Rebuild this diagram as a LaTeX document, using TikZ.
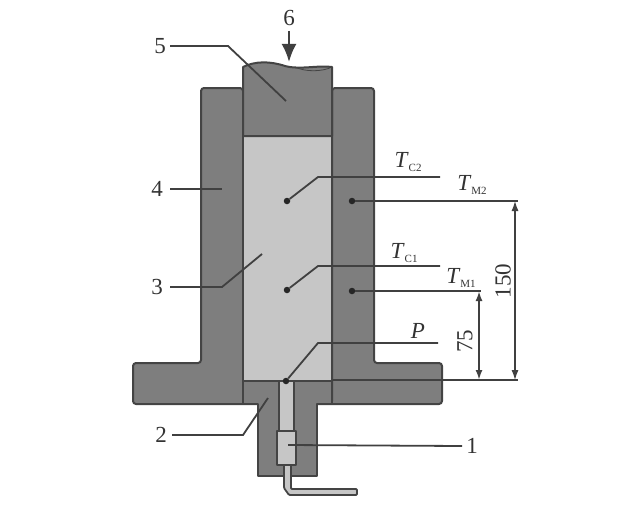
\documentclass[tikz,border=0pt]{standalone}
\usepackage{fontspec}
\setmainfont{Liberation Serif}
\usetikzlibrary{arrows.meta}
\definecolor{dark}{HTML}{7E7E7E}
\definecolor{light}{HTML}{C6C6C6}
\definecolor{edge}{HTML}{444444}
\definecolor{lead}{HTML}{404040}
\tikzset{
  part/.style={draw=edge,line width=2pt,fill=dark,line join=round},
  lightpart/.style={draw=edge,line width=1.8pt,fill=light,line join=round},
  leader/.style={draw=lead,line width=1.8pt},
  dimline/.style={draw=lead,line width=1.2pt,{Latex[length=10pt,width=7pt]}-{Latex[length=10pt,width=7pt]}},
  pointdot/.style={circle,fill=black!85,inner sep=0pt,minimum size=6.5pt},
  num/.style={font=\fontsize{23}{23}\selectfont,inner sep=0pt,text=black!80},
  sym/.style={font=\fontsize{23}{23}\selectfont,inner sep=0pt,text=black!80},
}
\newcommand{\Tsub}[2]{\textit{#1}\raisebox{-4pt}{\fontsize{11}{11}\selectfont #2}}
\begin{document}
\begin{tikzpicture}[x=1pt,y=-1pt]
\useasboundingbox (0,0) rectangle (617,527);
% die body
\draw[part,rounded corners=3pt] (243,88) -- (201,88) -- (201,363) -- (133,363) -- (133,404) -- (442,404) -- (442,363) -- (374,363) -- (374,88) -- (332,88) -- (332,404) -- (243,404) -- cycle;
% lower insert
\draw[part] (243,381) -- (332,381) -- (332,404) -- (317,404) -- (317,476) -- (258,476) -- (258,404) -- (243,404) -- cycle;
% specimen
\draw[lightpart] (243,136) rectangle (332,381);
% punch
\draw[part] (243,136) -- (243,67) .. controls (255,61) and (270,61) .. (285,66) .. controls (300,70) and (318,65) .. (332,67) -- (332,136) -- cycle;
\draw[edge,line width=0.8pt] (295,67) .. controls (305,72) and (322,72) .. (332,67);
% channel and sensor
\draw[lightpart] (279,381) rectangle (294,431);
\draw[lightpart,rounded corners=1pt] (284,465) -- (284,488) -- (289,495) -- (357,495) -- (357,489) -- (291,489) -- (291,465);
\draw[lightpart] (277,431) rectangle (296,465);
% dots
\node[pointdot] (dC2) at (287,201) {};
\node[pointdot] (dC1) at (287,290) {};
\node[pointdot] (dM2) at (352,201) {};
\node[pointdot] (dM1) at (352,291) {};
\node[pointdot] (dP) at (286,381) {};
% labels
\node[num] (n6) at (289,18) {6};
\node[num] (n5) at (160,46) {5};
\node[num] (n4) at (157,189) {4};
\node[num] (n3) at (157,287) {3};
\node[num] (n2) at (161,435) {2};
\node[num] (n1) at (472,446) {1};
\node[sym] (lC2) at (408,162) {\Tsub{T}{C2}};
\node[sym] (lM2) at (472,185) {\Tsub{T}{M2}};
\node[sym] (lC1) at (404,253) {\Tsub{T}{C1}};
\node[sym] (lM1) at (461,278) {\Tsub{T}{M1}};
\node[sym] (lP) at (418,331) {\textit{P}};
\node[num,rotate=90] (d150) at (503,281) {150};
\node[num,rotate=90] (d75) at (465,341) {75};
% free ends of leaders
\coordinate (a5) at (170,46); \coordinate (b5) at (228,46); \coordinate (c5) at (286,101);
\coordinate (a4) at (170,189); \coordinate (c4) at (222,189);
\coordinate (a3) at (170,287); \coordinate (b3) at (222,287); \coordinate (c3) at (262,254);
\coordinate (a2) at (172,435); \coordinate (b2) at (243,435); \coordinate (c2) at (268,398);
\coordinate (a1) at (288,445); \coordinate (c1) at (462,446);
\coordinate (bC2) at (318,177); \coordinate (eC2) at (440,177);
\coordinate (bC1) at (318,266); \coordinate (eC1) at (440,266);
\coordinate (bP) at (318,343); \coordinate (eP) at (438,343);
\coordinate (eM2) at (518,201); \coordinate (eM1) at (481,291);
\coordinate (base) at (332,380); \coordinate (eB) at (518,380);
\coordinate (dimA) at (515,201); \coordinate (dimB) at (515,380);
\coordinate (dimC) at (479,291); \coordinate (dimD) at (479,380);
\coordinate (arT) at (289,31); \coordinate (arH) at (289,62);
% connectors
\draw[leader] (a5) -- (b5) -- (c5);
\draw[leader] (a4) -- (c4);
\draw[leader] (a3) -- (b3) -- (c3);
\draw[leader] (a2) -- (b2) -- (c2);
\draw[leader] (a1) -- (c1);
\draw[leader] (dC2) -- (bC2) -- (eC2);
\draw[leader] (dC1) -- (bC1) -- (eC1);
\draw[leader] (dP) -- (bP) -- (eP);
\draw[leader] (dM2) -- (eM2);
\draw[leader] (dM1) -- (eM1);
\draw[leader] (base) -- (eB);
\draw[dimline] (dimA) -- (dimB);
\draw[dimline,line width=2pt] (dimC) -- (dimD);
\draw[draw=lead,line width=2.5pt,-{Latex[length=18pt,width=15pt]}] (arT) -- (arH);
\end{tikzpicture}
\end{document}
